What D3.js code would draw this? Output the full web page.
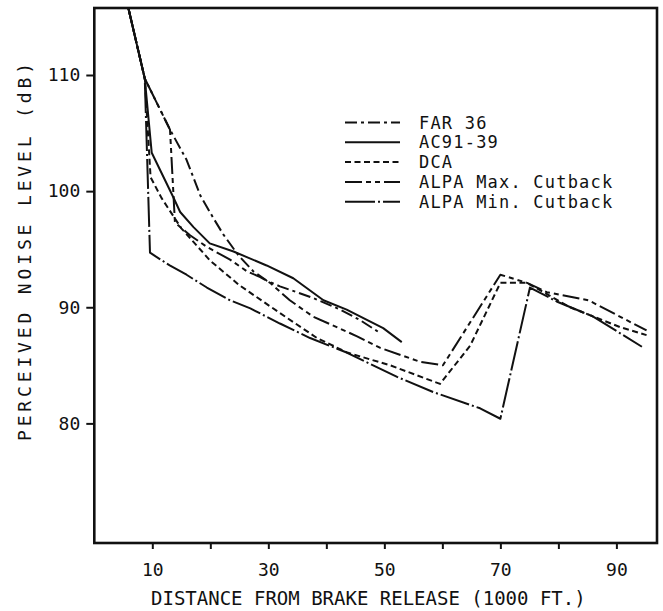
<!DOCTYPE html>
<html>
<head>
<meta charset="utf-8">
<script src="https://cdn.jsdelivr.net/npm/d3@7"></script>
<style>
  body { margin: 0; background: #fff; }
  svg text { font-family: "DejaVu Sans Mono", monospace; fill: #111; }
</style>
</head>
<body>
<svg id="chart" width="663" height="611"></svg>
<script>
// Perceived noise level vs. distance from brake release, five takeoff procedures.
const seriesNames = ["FAR 36", "AC91-39", "DCA", "ALPA Max. Cutback", "ALPA Min. Cutback"];

// [distance (1000 ft), PNdB]
const far36 = [[5.9,115.7],[8.7,109.7],[13.05,105.3],[15.9,102.7],[18.3,99.6],[20.5,97.7],[22.2,96.3],
  [24.8,94.5],[27.4,93.1],[29.7,92.3],[32,91.8],[34.9,91.3],[37.7,90.8],[42.4,89.8],[45.8,88.9],[48.9,87.9]];
const ac9139 = [[5.9,115.7],[8.7,109.7],[9.9,103.3],[13.6,99.5],[14.8,98.2],[17.1,96.9],[19.9,95.5],
  [24.0,94.8],[29.7,93.6],[34.3,92.5],[39.5,90.6],[43.5,89.8],[49.8,88.2],[53.0,87.0]];
const dca = [[5.9,115.7],[8.7,109.7],[9.7,101.2],[11.6,99.4],[15,96.8],[20,94.0],[25,91.9],[32,89.5],
  [38.4,87.35],[43.6,86.1],[51,85.0],[59.6,83.4],[64.8,86.7],[70,92.1],[74.6,92.1],[82,90.0],[90.6,88.3],[95.2,87.6]];
const alpaMax = [[5.9,115.7],[8.7,109.7],[13.05,105.3],[13.9,97.3],[16.5,96.2],[19.4,95.2],[23.4,94.1],
  [26.3,93.1],[28.6,92.6],[30.3,92.1],[33.7,90.6],[37.7,89.2],[45.3,87.5],[49.3,86.5],[56.2,85.3],[60.1,85.0],
  [70,92.8],[74.6,92.1],[78,91.3],[85.2,90.6],[95.2,88.0]];
const alpaMin = [[5.9,115.7],[8.7,109.7],[9.6,94.7],[13.0,93.6],[15.9,92.8],[19.4,91.7],[23.4,90.6],
  [26.9,89.9],[32,88.6],[37.2,87.35],[43.5,86.1],[52.2,84.0],[58.4,82.7],[66.5,81.3],[70,80.4],[75.1,91.7],
  [79.7,90.5],[86.0,89.2],[94.4,86.6]];

const xTicks = [10, 20, 30, 40, 50, 60, 70, 80, 90];
const xTickLabels = [10, 30, 50, 70, 90];
const yTicks = [80, 90, 100, 110];
const xTitle = "DISTANCE FROM BRAKE RELEASE (1000 FT.)";
const yTitle = "PERCEIVED NOISE LEVEL (dB)";

const allSeries = [far36, ac9139, dca, alpaMax, alpaMin];
const dashes = ["12,4,3,4", null, "6,3.5", "17,4,5,4,5,4", "30,3,2,3"];

const W = 663, H = 611;
const margin = { left: 94.3, top: 8, right: 6, bottom: 68 };
const svg = d3.select("#chart");

const x = d3.scaleLinear().domain([0, 97]).range([margin.left, W - margin.right]);
const y = d3.scaleLinear().domain([69.7, 115.77]).range([H - margin.bottom, margin.top]);

// axes
const xAxis = d3.axisBottom(x).tickValues(xTicks).tickSize(6).tickSizeOuter(0).tickPadding(14)
  .tickFormat(d => xTickLabels.includes(d) ? d : "");
const gx = svg.append("g").attr("transform", `translate(0,${y.range()[0]})`).call(xAxis);
gx.select(".domain").remove();
gx.selectAll("line").attr("stroke", "#111").attr("stroke-width", 2);
gx.selectAll("text").style("font-size", "18px").attr("font-family", null);

const yAxis = d3.axisLeft(y).tickValues(yTicks).tickSize(8).tickSizeOuter(0).tickPadding(6);
const gy = svg.append("g").attr("transform", `translate(${x.range()[0]},0)`).call(yAxis);
gy.select(".domain").remove();
gy.selectAll("line").attr("stroke", "#111").attr("stroke-width", 2);
gy.selectAll("text").style("font-size", "18px").attr("font-family", null);

// frame
svg.append("rect")
  .attr("x", x.range()[0]).attr("y", y.range()[1])
  .attr("width", x.range()[1] - x.range()[0]).attr("height", y.range()[0] - y.range()[1])
  .attr("fill", "none").attr("stroke", "#111").attr("stroke-width", 2.6);

// curves
const line = d3.line().x(d => x(d[0])).y(d => y(d[1]));
svg.append("g").selectAll("path").data(allSeries).join("path")
  .attr("d", line)
  .attr("fill", "none")
  .attr("stroke", "#111")
  .attr("stroke-width", 2)
  .attr("stroke-linejoin", "round")
  .attr("stroke-dasharray", (d, i) => dashes[i]);

// legend
const legend = svg.append("g");
seriesNames.forEach((name, i) => {
  const ly = 122.5 + i * 19.8;
  legend.append("line").attr("x1", 345).attr("x2", 400).attr("y1", ly).attr("y2", ly)
    .attr("stroke", "#111").attr("stroke-width", 2).attr("stroke-dasharray", dashes[i]);
  legend.append("text").attr("x", 419).attr("y", ly).attr("dy", "0.36em")
    .style("font-size", "17px").style("letter-spacing", "1.2px").text(name);
});

// titles
svg.append("text").attr("x", 151).attr("y", 605).style("font-size", "19px").text(xTitle);
svg.append("text").attr("transform", "translate(31,252) rotate(-90)")
  .attr("text-anchor", "middle").style("font-size", "18px")
  .attr("textLength", 378).attr("lengthAdjust", "spacing").text(yTitle);
</script>
</body>
</html>
